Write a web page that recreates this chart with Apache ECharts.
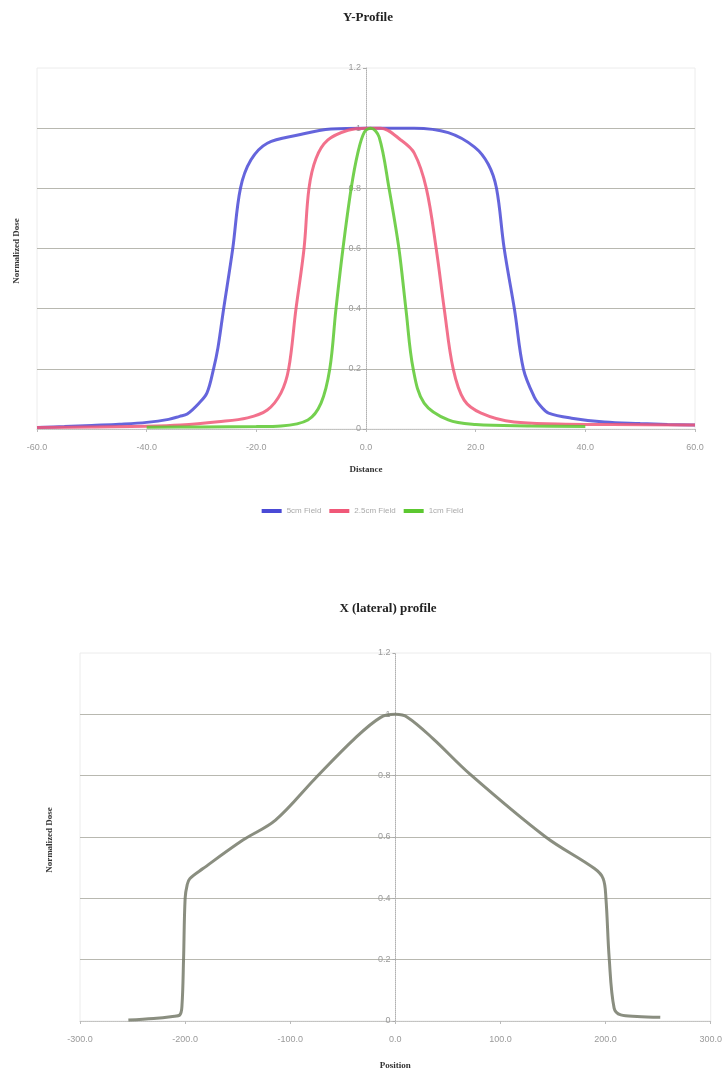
<!DOCTYPE html>
<html>
<head>
<meta charset="utf-8">
<title>Y-Profile / X (lateral) profile</title>
<script src="https://cdn.jsdelivr.net/npm/echarts@6/dist/echarts.min.js"></script>
<style>
  html, body { margin: 0; padding: 0; background: #fff; }
  #main { width: 725px; height: 1071px; }
</style>
</head>
<body>
<div id="main"></div>
<script>
// Y-profile, 5cm field (blue)
const blueX = [-60, -55, -50, -45, -40, -36, -34, -32.6, -30.5, -29, -27.8, -27, -26, -24.3, -22.9, -21, -18, -12.4, -6.4, 0,
  8.8, 15, 19.8, 22.3, 23.8, 25.2, 27.1, 28.7, 30.7, 32, 33.3, 37.5, 43.5, 50, 55, 60];
const blueY = [0.005, 0.008, 0.012, 0.016, 0.022, 0.032, 0.042, 0.05, 0.085, 0.12, 0.2, 0.27, 0.395, 0.6, 0.8, 0.894, 0.95, 0.977, 0.997, 1.0,
  1.0, 0.985, 0.937, 0.88, 0.8, 0.6, 0.395, 0.2, 0.106, 0.073, 0.053, 0.036, 0.023, 0.018, 0.015, 0.013];

// 2.5cm field (pink)
const pinkX = [-60, -50, -40, -33.8, -27, -21.6, -18, -15.5, -14.1, -12.8, -11.3, -10.4, -9.1, -7, -3.3, 0,
  2.7, 6.4, 8.8, 11, 12.8, 14.3, 15.9, 17.9, 21, 27, 35, 45, 60];
const pinkY = [0.005, 0.007, 0.009, 0.013, 0.024, 0.037, 0.063, 0.12, 0.2, 0.395, 0.6, 0.8, 0.9, 0.96, 0.993, 1.0,
  1.0, 0.96, 0.917, 0.8, 0.6, 0.395, 0.2, 0.096, 0.053, 0.023, 0.017, 0.015, 0.013];

// 1cm field (green)
const greenX = [-40, -30, -20, -15.5, -10.6, -8.2, -6.6, -5.5, -4.2, -2.7, -1.5, -0.3, 0.9,
  2.4, 4.2, 6, 7.3, 8.6, 10.6, 15, 20, 30, 40];
const greenY = [0.006, 0.007, 0.008, 0.01, 0.03, 0.086, 0.2, 0.395, 0.6, 0.8, 0.917, 0.987, 1.0,
  0.97, 0.8, 0.6, 0.395, 0.2, 0.086, 0.03, 0.015, 0.01, 0.008];

// X (lateral) profile
const latX = [-254, -230, -212, -205, -203, -201.5, -200, -198, -195.6, -183, -145, -114, -76.5, -39, -14, 0,
  11.7, 36, 71, 143, 189.4, 197.7, 200.3, 203.4, 208.1, 214.4, 230, 252];
const latY = [0.003, 0.008, 0.015, 0.02, 0.05, 0.2, 0.4, 0.445, 0.464, 0.497, 0.59, 0.655, 0.79, 0.92, 0.99, 1.0,
  0.99, 0.92, 0.805, 0.6, 0.497, 0.464, 0.4, 0.205, 0.042, 0.02, 0.015, 0.012];

const legendNames = ['5cm Field', '2.5cm Field', '1cm Field'];

function pairs(xs, ys) {
  return xs.map(function (x, i) { return [x, ys[i]]; });
}

var chartDom = document.getElementById('main');
var myChart = echarts.init(chartDom);
var option;

const labelStyle = { color: '#9a9a9a', fontSize: 9, fontFamily: 'Liberation Sans' };
const titleFont = { fontFamily: 'Liberation Serif', fontWeight: 'bold', fontSize: 13, color: '#222' };
const nameFont = { fontFamily: 'Liberation Serif', fontWeight: 'bold', fontSize: 9, color: '#333' };

function xAxisFor(gridIndex, min, max, interval, name, gap) {
  return {
    type: 'value',
    gridIndex: gridIndex,
    min: min,
    max: max,
    interval: interval,
    name: name,
    nameLocation: 'middle',
    nameGap: gap,
    nameTextStyle: nameFont,
    axisLine: { show: true, onZero: false, lineStyle: { color: '#c8c8c8', type: 'dotted' } },
    axisTick: { show: true, length: 3, lineStyle: { color: '#bbb' } },
    axisLabel: Object.assign({ margin: 14, formatter: function (v) { return v.toFixed(1); } }, labelStyle),
    splitLine: { show: false }
  };
}

// the y axis sits at x = 0, half a plot width in from the left edge
function yAxisFor(gridIndex, halfWidth) {
  return {
    type: 'value',
    gridIndex: gridIndex,
    min: 0,
    max: 1.2,
    interval: 0.2,
    position: 'left',
    offset: -halfWidth,
    axisLine: { show: true, onZero: false, lineStyle: { color: '#b0b0b0', type: 'dotted' } },
    axisTick: { show: true, length: 3, lineStyle: { color: '#aaa' } },
    axisLabel: Object.assign({ margin: 5 }, labelStyle),
    splitLine: { show: true, showMaxLine: false, lineStyle: { color: '#b8b8b0', width: 1 } }
  };
}

function lineSeries(name, data, color, xi, yi) {
  return {
    name: name,
    type: 'line',
    xAxisIndex: xi,
    yAxisIndex: yi,
    data: data,
    showSymbol: false,
    smooth: 0.35,
    lineStyle: { color: color, width: 3, opacity: 0.85 },
    itemStyle: { color: color },
    z: 3
  };
}

option = {
  backgroundColor: '#fff',
  animation: false,
  title: [
    { text: 'Y-Profile', left: 363, top: 6, textAlign: 'center', textStyle: titleFont },
    { text: 'X (lateral) profile', left: 383, top: 597, textAlign: 'center', textStyle: titleFont }
  ],
  legend: {
    data: legendNames,
    left: 'center',
    top: 502,
    icon: 'rect',
    itemWidth: 20,
    itemHeight: 4,
    itemGap: 8,
    textStyle: { color: '#aaa', fontSize: 8, fontFamily: 'Liberation Sans' }
  },
  grid: [
    { left: 37, top: 68, width: 658, height: 361, show: true, borderColor: '#ececec', borderWidth: 1 },
    { left: 80, top: 653, width: 631, height: 370, show: true, borderColor: '#ececec', borderWidth: 1 }
  ],
  xAxis: [
    xAxisFor(0, -60, 60, 20, 'Distance', 36),
    xAxisFor(1, -300, 300, 100, 'Position', 40)
  ],
  yAxis: [yAxisFor(0, 329), yAxisFor(1, 315.5)],
  graphic: [
    {
      type: 'text', x: 17, y: 251, rotation: Math.PI / 2,
      style: { text: 'Normalized Dose', font: 'bold 9px "Liberation Serif"', fill: '#333', align: 'center', verticalAlign: 'middle' }
    },
    {
      type: 'text', x: 50, y: 840, rotation: Math.PI / 2,
      style: { text: 'Normalized Dose', font: 'bold 9px "Liberation Serif"', fill: '#333', align: 'center', verticalAlign: 'middle' }
    }
  ],
  series: [
    lineSeries(legendNames[0], pairs(blueX, blueY), '#4a4ad6', 0, 0),
    lineSeries(legendNames[1], pairs(pinkX, pinkY), '#f05878', 0, 0),
    lineSeries(legendNames[2], pairs(greenX, greenY), '#5cc830', 0, 0),
    lineSeries('Lateral', pairs(latX, latY), '#767a6a', 1, 1)
  ]
};

option && myChart.setOption(option);
</script>
</body>
</html>
